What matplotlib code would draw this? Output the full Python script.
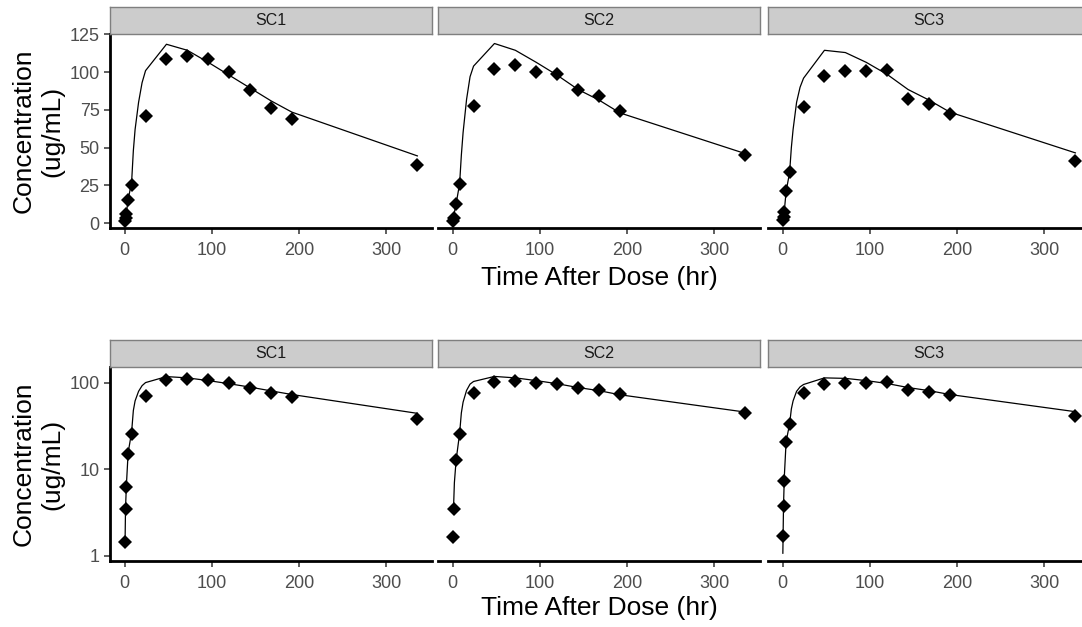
import matplotlib
matplotlib.use("Agg")
import matplotlib.pyplot as plt

plt.rcParams['font.family'] = ['Liberation Sans', 'DejaVu Sans']

# ---- data -------------------------------------------------------------
panels = ["SC1", "SC2", "SC3"]

obs_time = {
    "SC1": [0.5, 1, 2, 4, 8, 24, 48, 72, 96, 120, 144, 168, 192, 336],
    "SC2": [0.5, 1, 4, 8, 24, 48, 72, 96, 120, 144, 168, 192, 336],
    "SC3": [0.5, 1, 2, 4, 8, 24, 48, 72, 96, 120, 144, 168, 192, 336],
}
obs_conc = {
    "SC1": [1.45, 3.5, 6.2, 15.2, 25.5, 71, 109, 111, 108.5, 100, 88.5, 76, 69, 38.5],
    "SC2": [1.65, 3.5, 12.8, 26, 77.5, 102, 105, 100, 98.5, 88.5, 84, 74, 45.3],
    "SC3": [1.7, 3.8, 7.3, 21, 33.5, 77, 97.5, 101, 100.5, 101.5, 82.2, 78.8, 72.5, 41.3],
}

pred_time = {
    "SC1": [0.5, 1, 2, 4, 8, 10, 12, 16, 20, 24, 48, 72, 96, 120, 144, 168, 192, 336],
    "SC2": [1, 2, 4, 8, 10, 12, 16, 20, 24, 48, 72, 96, 120, 144, 168, 192, 336],
    "SC3": [0.25, 1, 2, 4, 8, 10, 12, 16, 20, 24, 48, 72, 96, 120, 144, 168, 192, 336],
}
pred_conc = {
    "SC1": [1.45, 3.5, 6.5, 15.5, 27, 48, 62, 80, 93, 101, 118.5, 114.5, 106.5, 98, 89.5, 81, 73.5, 44.5],
    "SC2": [3.5, 7, 12.8, 26, 45, 60, 82, 97, 104, 119, 114.5, 106.5, 98, 88.5, 81.5, 73, 46],
    "SC3": [1.07, 3.8, 8.5, 21, 33.5, 50, 62, 80, 90, 96, 114.5, 113, 106.5, 98.5, 88.5, 81.5, 73.5, 46.5],
}

x_ticks = [0, 100, 200, 300]
lin_ticks = [0, 25, 50, 75, 100, 125]
log_ticks = [1, 10, 100]
log_tick_labels = ["1", "10", "100"]

# ---- layout (pixels) ----------------------------------------------------
W, H = 1082, 627
fig = plt.figure(figsize=(W / 100, H / 100), dpi=100)
fig.patch.set_facecolor("white")

col_x = [(110, 432), (438, 760), (768, 1090)]
rows = [
    dict(strip=(7, 34), panel=(34, 228), log=False, xlab_y=278, ylab_y=131),
    dict(strip=(340, 367), panel=(367, 561), log=True, xlab_y=608, ylab_y=464),
]


def rect(x0, y0, x1, y1):
    return [x0 / W, 1 - y1 / H, (x1 - x0) / W, (y1 - y0) / H]


TICK_GREY = "#4D4D4D"

for row in rows:
    for ci, name in enumerate(panels):
        x0, x1 = col_x[ci]
        py0, py1 = row["panel"]
        ax = fig.add_axes(rect(x0, py0, x1, py1))
        ax.set_facecolor("white")

        ax.plot(pred_time[name], pred_conc[name], color="black", lw=0.9,
                solid_joinstyle="round", zorder=2)
        ax.plot(obs_time[name], obs_conc[name], linestyle="none", marker="D",
                ms=7, mec="black", mew=0, color="black", zorder=3)

        ax.set_xlim(-16.8, 352.8)
        ax.set_xticks(x_ticks)
        ax.set_xticklabels([str(t) for t in x_ticks])

        if row["log"]:
            ax.set_yscale("log")
            ax.set_ylim(0.87, 153)
            ax.set_yticks(log_ticks)
            ax.set_yticklabels(log_tick_labels)
            ax.yaxis.set_minor_locator(matplotlib.ticker.NullLocator())
        else:
            ax.set_ylim(-3.3, 125.3)
            ax.set_yticks(lin_ticks)
            ax.set_yticklabels([str(v) for v in lin_ticks])

        for s in ("top", "right"):
            ax.spines[s].set_visible(False)
        ax.spines["bottom"].set_linewidth(2.0)
        ax.spines["bottom"].set_color("black")
        ax.spines["left"].set_linewidth(2.0)
        ax.spines["left"].set_color("black")

        ax.tick_params(axis="x", length=4, width=1.1, color="#333333",
                       labelsize=13, labelcolor=TICK_GREY, pad=6)
        ax.tick_params(axis="y", length=4, width=1.1, color="#333333",
                       labelsize=13, labelcolor=TICK_GREY, pad=3.5)
        if ci > 0:
            ax.spines["left"].set_visible(False)
            ax.tick_params(axis="y", left=False, labelleft=False)

        # facet strip
        sy0, sy1 = row["strip"]
        sax = fig.add_axes(rect(x0, sy0, x1, sy1))
        sax.set_xticks([])
        sax.set_yticks([])
        sax.set_facecolor("#CCCCCC")
        for s in sax.spines.values():
            s.set_color("#7F7F7F")
            s.set_linewidth(1.0)
        sax.text(0.5, 0.5, name, ha="center", va="center", fontsize=11.5,
                 color="#1A1A1A", transform=sax.transAxes)

    fig.text(599 / W, 1 - row["xlab_y"] / H, "Time After Dose (hr)",
             ha="center", va="center", fontsize=19, color="black")
    fig.text(38 / W, 1 - row["ylab_y"] / H, "Concentration\n(ug/mL)",
             ha="center", va="center", rotation=90, fontsize=19,
             color="black", multialignment="center", linespacing=1.2)

fig.savefig("out.png", dpi=100, facecolor="white")
